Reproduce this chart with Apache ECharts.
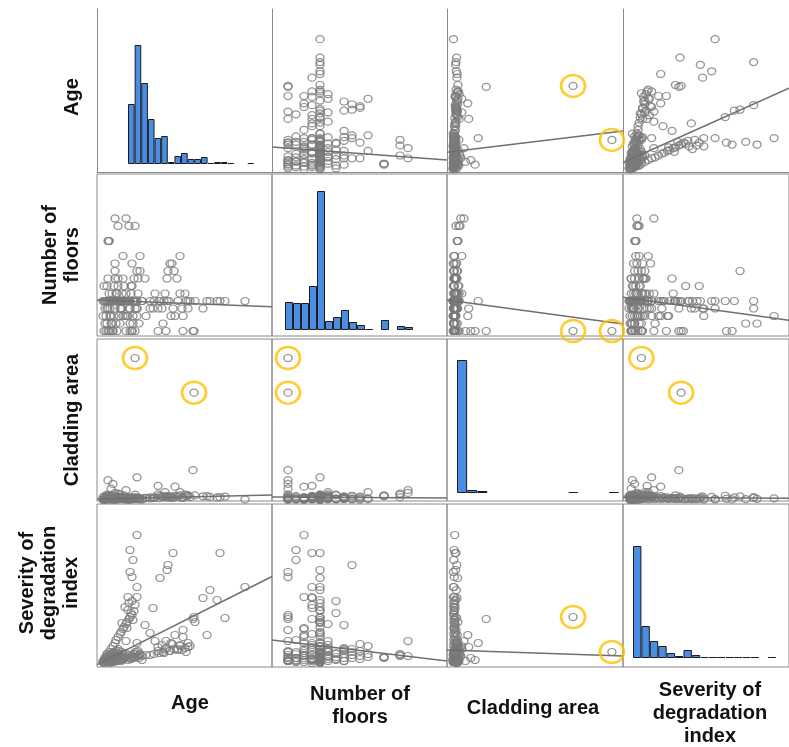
<!DOCTYPE html>
<html><head><meta charset="utf-8">
<script src="https://cdn.jsdelivr.net/npm/echarts@6/dist/echarts.min.js"></script>
<style>html,body{margin:0;padding:0;background:#fff}#c{width:789px;height:747px}</style>
</head><body><div id="c"></div>
<script>
// ---------- DATA ----------
const varLabels = ['Age', 'Number of\nfloors', 'Cladding area', 'Severity of\ndegradation\nindex'];

const age = [35,28,71,118,31,66,65,28,30,58, 35,143,108,26,35,101,115,23,51,26, 30,92,123,31,93,43,81,73,81,105,
  56,65,86,33,91,35,6,11,63,78, 64,69,60,48,53,78,68,72,70,75, 32,35,30,36,21,38,13,38,13,13,
  24,16,33,7,7,6,27,83,56,86, 20,24,28,32,36,40,44,48,52,57, 61,67,76,80,88,84,62,3,5,7,
  9,11,13,14,16,18,19,21,22,24, 25,27,28,29,32,20,25,27,33,30, 1,2,3,4,5,6,7,8,9,10,
  11,12,13,14,15,16,17,18,19,20, 21,22,23,24,2,4,6,8,10,12, 14,3,5,7,9,11,13,15,17,19,
  1,2,4,6,8,10,12,15,18,22, 26,29,31,34,37,16,20,5,9,40];

const floors = [3,2,4,5,2,9,5,1,1,5, 4,5,5,3,4,4,5,5,4,5, 1,1,5,5,5,8,1,3,3,5, 4,8,5,1,1,5,1,1,6,11,
  1,3,4,5,6,6,10,9,10,8, 8,9,10,8,11,11,10,9,9,16, 16,15,15,13,13,13,15,6,1,4, 5,5,4,5,6,5,3,4,5,5,
  2,5,5,4,5,5,5,5,4,5, 3,5,5,2,5,4,5,3,5,6, 5,4,5,7,5,5,3,5,4,7, 5,1,2,3,5,4,1,5,2,6,
  5,3,4,5,1,7,5,2,5,4, 8,5,3,1,7,5,8,3,5,7, 6,4,2,6,5,1,8,5,3,4, 3,5,1,5,4,2,5,6,5,7,
  5,6,3,5,2,8,6,7,1,5];

const cladding = [120,80,150,200,60,250,180,40,90,300, 70,40,220,30,110,260,180,50,140,90,
  60,7560,240,130,320,150,200,940,160,280, 1000,230,350,10000,2100,1600,1400,1130,560,560,
  300,200,260,180,200,320,240,300,200,260, 120,100,90,150,60,110,30,80,40,500,
  700,450,380,300,320,280,200,400,400,300, 100,150,120,200,180,90,140,110,160,130,
  200,180,240,150,200,260,220,60,40,80, 100,50,90,70,110,60,130,80,100,120,
  90,70,150,60,100,90,80,60,120,100, 20,30,50,40,60,80,100,120,70,90,
  150,60,110,200,80,60,130,100,170,90, 140,60,110,150,40,90,70,30,50,90,
  130,110,70,140,100,60,80,40,160,200, 150,250,180,300,220,280,350,260,400,320,
  30,50,70,60,40,190,230,380,800,30];

const severity = [128,113,110,110,103,98,93,91,86,85, 76,76,73,66,66,65,63,56,55,53,
  48,46,45,43,41,38,33,28,26,28, 16,15,16,11,44,20,3,5,14,17, 22,20,18,30,22,18,12,14,19,13,
  9,11,7,12,6,9,4,8,5,7, 22,7,9,6,6,5,8,15,12,20, 4,5,5,6,7,7,8,8,9,10,
  11,12,14,13,17,11,10,5,8,11, 14,17,20,23,26,29,31,34,36,39, 41,44,46,50,52,40,35,60,58,62,
  1,2,1,3,2,4,3,5,2,6, 4,7,3,5,8,6,4,9,7,3, 5,8,10,6,3,6,2,8,1,10,
  12,4,5,7,9,11,2,10,12,2, 1,0,2,1,0,3,1,2,3,4, 3,4,5,6,5,14,11,9,2,3];

// highlighted outliers (indices into the arrays above)
const outlierIdx = [21, 33];

// histogram bin counts (diagonal)
const histAge = [60,119,81,45,26,28,2,8,11,5,5,7,1,2,2,1,0,0,1];
const histFloors = [28,27,27,44,139,9,13,20,8,5,1,0,10,0,4,3];
const histCladding = [133,3,2,0,0,0,0,0,0,0,0,1,0,0,0,1];
const histSeverity = [112,32,17,12,5,2,8,3,1,1,1,1,1,1,1,0,1];

// fit lines: key "rowVar-colVar" -> intercept / slope
const fitIntercept = {'0-1':24.7,'0-2':20.4,'0-3':11.3,'1-0':5.10,'1-2':5.04,'1-3':5.38,
                      '2-0':78,'2-1':205,'2-3':200,'3-0':0.95,'3-1':22,'3-2':12.8};
const fitSlope = {'0-1':-0.654,'0-2':0.00209,'0-3':0.554,'1-0':-0.0051,'1-2':-0.000291,'1-3':-0.0209,
                  '2-0':1.6,'2-1':-3,'2-3':-0.5,'3-0':0.503,'3-1':-0.96,'3-2':-0.00055};

// ---------- LAYOUT ----------
const vars = [age, floors, cladding, severity];
const hists = [histAge, histFloors, histCladding, histSeverity];
const colLeft = [97, 272, 447, 623], colW = [175, 175, 176, 167];
const rowTop = [9, 174, 339, 504], rowH = [163, 162, 162, 163];
const xRange = [[-5,170],[-1,20.875],[-365,10698],[-5.26,141.2]];
const yRange = [[-2,176],[0.333,21.93],[-70,11338],[-4,159]];
const histBox = [
  {left:128, top:9, width:126, height:155},
  {left:285, top:174, width:128, height:156},
  {left:457, top:339, width:162, height:154},
  {left:633, top:504, width:143, height:154}
];

const frameColor = '#8a8a8a';
const grid = [], xAxis = [], yAxis = [], series = [];

for (let r = 0; r < 4; r++) {
  for (let c = 0; c < 4; c++) {
    const gi = grid.length;
    grid.push({left: colLeft[c], top: rowTop[r], width: colW[c], height: rowH[r],
      show: r > 0, borderColor: frameColor, borderWidth: 1, backgroundColor: 'transparent'});
    xAxis.push({type:'value', gridIndex: gi, min: xRange[c][0], max: xRange[c][1],
      axisLine:{show: r === 0, onZero:false, lineStyle:{color: frameColor, width:1}},
      axisTick:{show:false}, axisLabel:{show:false}, splitLine:{show:false}});
    yAxis.push({type:'value', gridIndex: gi, min: yRange[r][0], max: yRange[r][1],
      axisLine:{show: r === 0, onZero:false, lineStyle:{color: frameColor, width:1}},
      axisTick:{show:false}, axisLabel:{show:false}, splitLine:{show:false}});
    if (r === c) continue;
    const xs = vars[c], ys = vars[r];
    series.push({type:'scatter', xAxisIndex: gi, yAxisIndex: gi, silent:true,
      symbol:'circle', symbolSize:[8,7],
      itemStyle:{color:'rgba(0,0,0,0)', borderColor:'#7b7b7b', borderWidth:1.3},
      data: xs.map((v,i) => [v, ys[i]])});
    const key = r + '-' + c;
    const a = fitIntercept[key], b = fitSlope[key];
    const x0 = xRange[c][0], x1 = xRange[c][1];
    series.push({type:'line', xAxisIndex: gi, yAxisIndex: gi, silent:true, symbol:'none',
      lineStyle:{color:'#6f6f6f', width:1.5}, clip:true,
      data:[[x0, a + b*x0],[x1, a + b*x1]]});
    if (r === 2 || c === 2) {
      series.push({type:'scatter', xAxisIndex: gi, yAxisIndex: gi, silent:true, clip:false,
        symbol:'circle', symbolSize:[24,22], z:5,
        itemStyle:{color:'rgba(0,0,0,0)', borderColor:'#FFC000', borderWidth:2.6},
        data: outlierIdx.map(i => [xs[i], ys[i]])});
    }
  }
}

// histograms on the diagonal
for (let d = 0; d < 4; d++) {
  const gi = grid.length;
  const hb = histBox[d];
  grid.push({left: hb.left, top: hb.top, width: hb.width, height: hb.height, show:false});
  xAxis.push({type:'category', gridIndex: gi, data: hists[d].map((_,i)=>String(i)), show:false,
    boundaryGap:true});
  yAxis.push({type:'value', gridIndex: gi, min:0, max: hb.height, show:false});
  series.push({type:'bar', xAxisIndex: gi, yAxisIndex: gi, silent:true,
    barCategoryGap:'0%', barGap:'0%',
    itemStyle:{color:'#4a8de4', borderColor:'#1c1c1c', borderWidth:1},
    data: hists[d].map(v => v === 0 ? null : v)});
}

const font = 'bold 20px "Liberation Sans", Arial, sans-serif';
const rowLabelPos = [[72,97],[61,255],[72,420],[49,583]];
const colLabelPos = [[190,703],[360,706],[533,708],[710,713]];
const graphic = [];
for (let i = 0; i < 4; i++) {
  graphic.push({type:'text', x: rowLabelPos[i][0], y: rowLabelPos[i][1], rotation: Math.PI/2,
    style:{text: varLabels[i], font: font, fill:'#111', align:'center', verticalAlign:'middle', lineHeight:22}});
  graphic.push({type:'text', x: colLabelPos[i][0], y: colLabelPos[i][1],
    style:{text: varLabels[i], font: font, fill:'#111', align:'center', verticalAlign:'middle', lineHeight:23}});
}

const chart = echarts.init(document.getElementById('c'), null, {renderer:'canvas'});
chart.setOption({animation:false, backgroundColor:'#fff', grid, xAxis, yAxis, series, graphic});
</script></body></html>
